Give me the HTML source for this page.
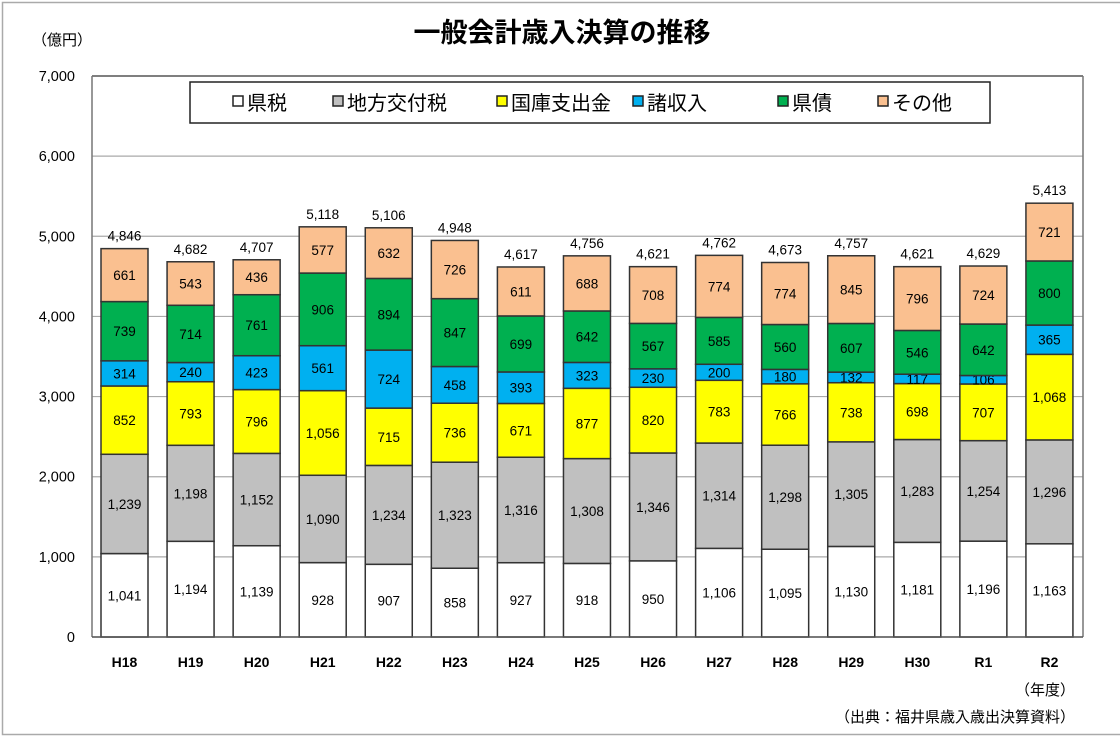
<!DOCTYPE html>
<html><head><meta charset="utf-8"><style>
body{margin:0;background:#fff;}
svg text{font-family:"Liberation Sans","Noto Sans CJK JP",sans-serif;}
</style></head><body>
<svg id="c" width="1120" height="745" xmlns="http://www.w3.org/2000/svg">
<rect x="2.5" y="2.5" width="1130" height="732" fill="none" stroke="#aaa" stroke-width="1.5"/>
<text x="562" y="42" text-anchor="middle" font-size="27" font-weight="bold" fill="#000">一般会計歳入決算の推移</text>
<text x="62" y="45" text-anchor="middle" font-size="15" fill="#000">（億円）</text>
<g id="grid"></g><g id="bars"></g><g id="axes"></g>
<g>
<rect x="190" y="82" width="800" height="41" fill="#fff" stroke="#222" stroke-width="1.5"/>
<g id="leg"></g></g>
<text x="1045" y="695" text-anchor="middle" font-size="15">（年度）</text>
<text x="1075" y="722" text-anchor="end" font-size="15">（出典：福井県歳入歳出決算資料）</text>
</svg>
<script>
const categories=["H18","H19","H20","H21","H22","H23","H24","H25","H26","H27","H28","H29","H30","R1","R2"];
const kenzei=[1041,1194,1139,928,907,858,927,918,950,1106,1095,1130,1181,1196,1163];
const chihou=[1239,1198,1152,1090,1234,1323,1316,1308,1346,1314,1298,1305,1283,1254,1296];
const kokko=[852,793,796,1056,715,736,671,877,820,783,766,738,698,707,1068];
const shoshu=[314,240,423,561,724,458,393,323,230,200,180,132,117,106,365];
const kensai=[739,714,761,906,894,847,699,642,567,585,560,607,546,642,800];
const sonota=[661,543,436,577,632,726,611,688,708,774,774,845,796,724,721];
const totals=[4846,4682,4707,5118,5106,4948,4617,4756,4621,4762,4673,4757,4621,4629,5413];
const seriesNames=["県税","地方交付税","国庫支出金","諸収入","県債","その他"];
const yTicks=[0,1000,2000,3000,4000,5000,6000,7000];
const series=[kenzei,chihou,kokko,shoshu,kensai,sonota];
const colors=["#ffffff","#c0c0c0","#ffff00","#00b0f0","#00b050","#fac090"];
const L=92,R=1083,B=637,T=76,MAX=7000;
const step=(R-L)/categories.length;
const y=v=>B-v/MAX*(B-T);
const x=i=>L+i*step;
const NS="http://www.w3.org/2000/svg";
function mk(tag,attrs,parent,txt){const e=document.createElementNS(NS,tag);for(const k in attrs)e.setAttribute(k,attrs[k]);if(txt!=null)e.textContent=txt;parent.appendChild(e);return e;}
const fmt=v=>v.toLocaleString("en-US");
const grid=document.getElementById("grid"),bars=document.getElementById("bars"),axes=document.getElementById("axes");
yTicks.forEach(t=>{
 const g=mk("line",{x1:L,x2:R,y1:y(t),y2:y(t),stroke:t==MAX?"#555":"#aaa","stroke-width":t==MAX?1.5:1.2},grid);
 
 
 const tl=mk("text",{x:75,y:y(t)+5,"text-anchor":"end","font-size":14.5},axes,fmt(t));
 
 
});
mk("line",{x1:L,x2:L,y1:T,y2:B,stroke:"#777","stroke-width":1.5},axes);
mk("line",{x1:R,x2:R,y1:T,y2:B,stroke:"#777","stroke-width":1.5},axes);
mk("line",{x1:L,x2:R,y1:B,y2:B,stroke:"#555","stroke-width":1.5},axes);
categories.forEach((c,i)=>{
 const bx=x(i)+9,bw=47;let acc=0;
 series.forEach((s,k)=>{
  const v=s[i],y0=y(acc),y1=y(acc+v);acc+=v;
  const r=mk("rect",{x:bx,y:y1,width:bw,height:y0-y1,fill:colors[k],stroke:"#333","stroke-width":1.5},bars);
  
  
  const t=mk("text",{x:bx+bw/2,y:(y0+y1)/2+5,"text-anchor":"middle","font-size":13.5},bars,fmt(v));
  
  
 });
 const tt=mk("text",{x:bx+bw/2,y:y(totals[i])-8,"text-anchor":"middle","font-size":13.5},bars,fmt(totals[i]));
 
 
 const xl=mk("text",{x:bx+bw/2,y:667,"text-anchor":"middle","font-size":14,"font-weight":"bold"},axes,c);
 
 
});
const leg=document.getElementById("leg");
const lx=[233,333,497,633,778,878];
seriesNames.forEach((n,k)=>{
 const g=mk("g",{},leg);
 
 
 mk("rect",{x:lx[k],y:96,width:10,height:10,fill:colors[k],stroke:"#222","stroke-width":1.5},g);
 mk("text",{x:lx[k]+14,y:110,"font-size":20},g,n);
});
</script>
</body></html>
